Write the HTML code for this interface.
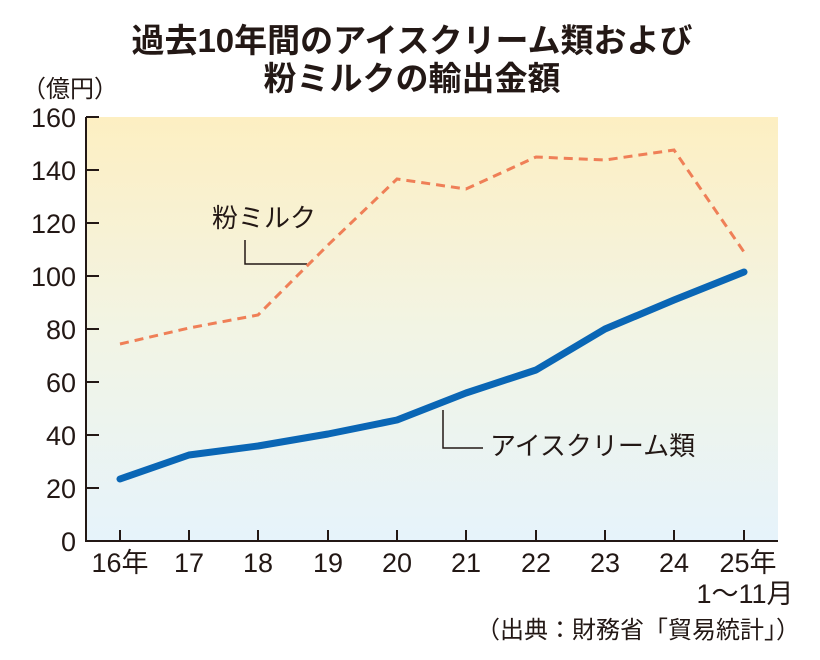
<!DOCTYPE html>
<html><head><meta charset="utf-8"><style>
html,body{margin:0;padding:0;background:#fff;}
svg{display:block;font-family:"Liberation Sans","Noto Sans CJK JP",sans-serif;}
</style></head><body>
<svg width="820" height="660" viewBox="0 0 820 660" xmlns="http://www.w3.org/2000/svg">
<defs><linearGradient id="g" x1="0" y1="0" x2="0" y2="1">
<stop offset="0" stop-color="#fdefc2"/><stop offset="0.5" stop-color="#f2f4e4"/><stop offset="1" stop-color="#e6f3fb"/></linearGradient></defs>
<text x="412" y="52" font-size="33" font-weight="bold" text-anchor="middle" fill="#231815">過去10年間のアイスクリーム類および</text>
<text x="412" y="90" font-size="33" font-weight="bold" text-anchor="middle" fill="#231815">粉ミルクの輸出金額</text>
<text x="22" y="97" font-size="24" fill="#231815">（億円）</text>
<rect x="86" y="117" width="692" height="424" fill="url(#g)"/>
<g stroke="#231815" stroke-width="2" fill="none">
<path d="M86 117V541H778"/>
<path d="M86 117h13M86 170h13M86 223h13M86 276h13M86 329h13M86 382h13M86 435h13M86 488h13"/>
<path d="M120 541v-11M189 541v-11M258 541v-11M328 541v-11M397 541v-11M466 541v-11M536 541v-11M605 541v-11M674 541v-11M744 541v-11"/>
<path d="M245 240v24h62" stroke-width="1.5"/>
<path d="M443 410v38h40" stroke-width="1.5"/>
</g>
<g font-size="27" fill="#231815" text-anchor="end">
<text x="76" y="127">160</text><text x="76" y="180">140</text><text x="76" y="233">120</text><text x="76" y="286">100</text><text x="76" y="339">80</text><text x="76" y="392">60</text><text x="76" y="445">40</text><text x="76" y="498">20</text><text x="76" y="551">0</text>
</g>
<g font-size="27" fill="#231815" text-anchor="middle">
<text x="120" y="572">16年</text><text x="189" y="572">17</text><text x="258" y="572">18</text><text x="328" y="572">19</text><text x="397" y="572">20</text><text x="466" y="572">21</text><text x="536" y="572">22</text><text x="605" y="572">23</text><text x="674" y="572">24</text><text x="748" y="572">25年</text>
<text x="745" y="603">1〜11月</text>
</g>
<text x="800" y="638" font-size="24" fill="#231815" text-anchor="end">（出典：財務省「貿易統計」）</text>
<polyline points="120,344 189,328 258,315 328,245 397,179 466,189 536,157 605,160 674,150 744,252" fill="none" stroke="#ef7f57" stroke-width="3" stroke-dasharray="9,6"/>
<polyline points="120,479 189,455 258,446 328,434 397,420 466,393 536,370 605,329 674,300 744,272" fill="none" stroke="#0a66b5" stroke-width="7" stroke-linecap="round" stroke-linejoin="round"/>
<text x="212" y="227" font-size="26" fill="#231815">粉ミルク</text>
<text x="490" y="455" font-size="26" fill="#231815">アイスクリーム類</text>
</svg>
</body></html>
